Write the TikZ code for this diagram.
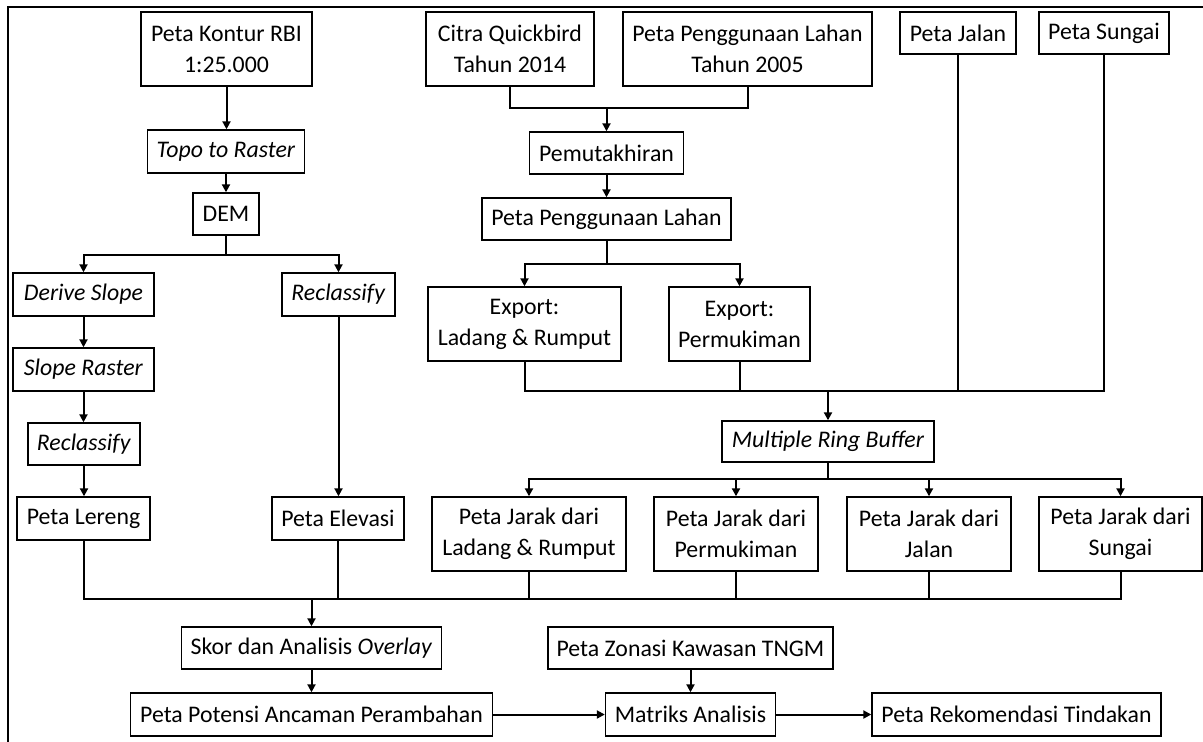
\documentclass[tikz,border=0pt]{standalone}
\usepackage{fontspec}
\setmainfont{Carlito}
\usetikzlibrary{arrows.meta}
\begin{document}
\begin{tikzpicture}[x=1pt,y=-1pt,
  box/.style={draw, line width=1.4pt, inner sep=0pt, align=center,
    font=\fontsize{23.8pt}{31pt}\selectfont},
  ln/.style={line width=2pt},
  arr/.style={line width=2pt, -{Triangle[length=8pt,width=8pt]}}]
\useasboundingbox (0,0) rectangle (1203,742);
\draw[line width=2.2pt] (8,742) -- (8,7) -- (1203,7);
% left column
\node[box, minimum width=171pt, minimum height=74pt] (kontur) at (226.5,49) {Peta Kontur RBI\\1:25.000};
\node[box, minimum width=157pt, minimum height=43pt] (topo) at (226,151.5) {\textit{Topo to Raster}};
\node[box, minimum width=66pt, minimum height=42pt] (dem) at (226,214) {DEM};
\node[box, minimum width=141pt, minimum height=43pt] (derive) at (83.5,294.5) {\textit{Derive Slope}};
\node[box, minimum width=113pt, minimum height=43pt] (recR) at (338.5,294.5) {\textit{Reclassify}};
\node[box, minimum width=141pt, minimum height=43pt] (sloper) at (83.5,369.5) {\textit{Slope Raster}};
\node[box, minimum width=112pt, minimum height=42pt] (recL) at (84,444) {\textit{Reclassify}};
\node[box, minimum width=133pt, minimum height=43pt] (lereng) at (83.5,518.5) {Peta Lereng};
\node[box, minimum width=132pt, minimum height=43pt] (elev) at (338,518.5) {Peta Elevasi};
% top middle / right
\node[box, minimum width=168pt, minimum height=74pt] (citra) at (510,49) {Citra Quickbird\\Tahun 2014};
\node[box, minimum width=249pt, minimum height=74pt] (pgl05) at (747.5,49) {Peta Penggunaan Lahan\\Tahun 2005};
\node[box, minimum width=116pt, minimum height=42pt] (jalan) at (958,33) {Peta Jalan};
\node[box, minimum width=130pt, minimum height=42pt] (sungai) at (1104,33) {Peta Sungai};
\node[box, minimum width=154pt, minimum height=42pt] (pemu) at (606.5,153) {Pemutakhiran};
\node[box, minimum width=249pt, minimum height=42pt] (pgl) at (606.5,219) {Peta Penggunaan Lahan};
\node[box, minimum width=193pt, minimum height=74pt] (expL) at (524.5,324) {Export:\\Ladang \& Rumput};
\node[box, minimum width=141pt, minimum height=74pt] (expP) at (739.5,324) {Export:\\Permukiman};
\node[box, minimum width=212pt, minimum height=41pt] (mrb) at (828,441.5) {\textit{Multiple Ring Buffer}};
\node[box, minimum width=194pt, minimum height=74pt] (jL) at (529,534) {Peta Jarak dari\\Ladang \& Rumput};
\node[box, minimum width=164pt, minimum height=74pt] (jP) at (736,534) {Peta Jarak dari\\Permukiman};
\node[box, minimum width=164pt, minimum height=74pt] (jJ) at (929,534) {Peta Jarak dari\\Jalan};
\node[box, minimum width=163pt, minimum height=74pt] (jS) at (1120.5,534) {Peta Jarak dari\\Sungai};
% bottom
\node[box, minimum width=260pt, minimum height=42pt] (skor) at (311.5,648) {Skor dan Analisis \textit{Overlay}};
\node[box, minimum width=362pt, minimum height=43pt] (pot) at (311.5,714.5) {Peta Potensi Ancaman Perambahan};
\node[box, minimum width=285pt, minimum height=42pt] (zon) at (690.5,648) {Peta Zonasi Kawasan TNGM};
\node[box, minimum width=170pt, minimum height=43pt] (mat) at (690.5,714.5) {Matriks Analisis};
\node[box, minimum width=289pt, minimum height=43pt] (rek) at (1016.5,714.5) {Peta Rekomendasi Tindakan};
% junctions
\coordinate (j1) at (226,255);
\coordinate (t1) at (606.5,108);
\coordinate (t2) at (606.5,264);
\coordinate (t3) at (828,391);
\coordinate (t4) at (828,479);
\coordinate (b) at (311.5,599);
% connectors left
\draw[arr] (kontur.south) -- (kontur.south |- topo.north);
\draw[arr] (topo.south) -- (topo.south |- dem.north);
\draw[ln] (dem.south) -- (j1);
\draw[arr] (j1) -| (derive.north);
\draw[arr] (j1) -| (recR.north);
\draw[arr] (derive.south) -- (sloper.north);
\draw[arr] (sloper.south) -- (sloper.south |- recL.north);
\draw[arr] (recL.south) -- (recL.south |- lereng.north);
\draw[arr] (recR.south) -- (recR.south |- elev.north);
% connectors top middle
\draw[ln] (citra.south) |- (t1);
\draw[ln] (pgl05.south) |- (t1);
\draw[arr] (t1) -- (pemu.north);
\draw[arr] (pemu.south) -- (pgl.north);
\draw[ln] (pgl.south) -- (t2);
\draw[arr] (t2) -| (expL.north);
\draw[arr] (t2) -| (expP.north);
\draw[ln] (expL.south) |- (t3);
\draw[ln] (expP.south) |- (t3);
\draw[ln] (jalan.south) |- (t3);
\draw[ln] (sungai.south) |- (t3);
\draw[arr] (t3) -- (mrb.north);
\draw[ln] (mrb.south) -- (t4);
\draw[arr] (t4) -| (jL.north);
\draw[arr] (t4) -| (jP.north);
\draw[arr] (t4) -| (jJ.north);
\draw[arr] (t4) -| (jS.north);
% connectors bottom
\draw[ln] (lereng.south) |- (b);
\draw[ln] (elev.south) |- (b);
\draw[ln] (jL.south) |- (b);
\draw[ln] (jP.south) |- (b);
\draw[ln] (jJ.south) |- (b);
\draw[ln] (jS.south) |- (b);
\draw[arr] (b) -- (skor.north);
\draw[arr] (skor.south) -- (pot.north);
\draw[arr] (pot.east) -- (mat.west);
\draw[arr] (zon.south) -- (mat.north);
\draw[arr] (mat.east) -- (rek.west);
\end{tikzpicture}
\end{document}
